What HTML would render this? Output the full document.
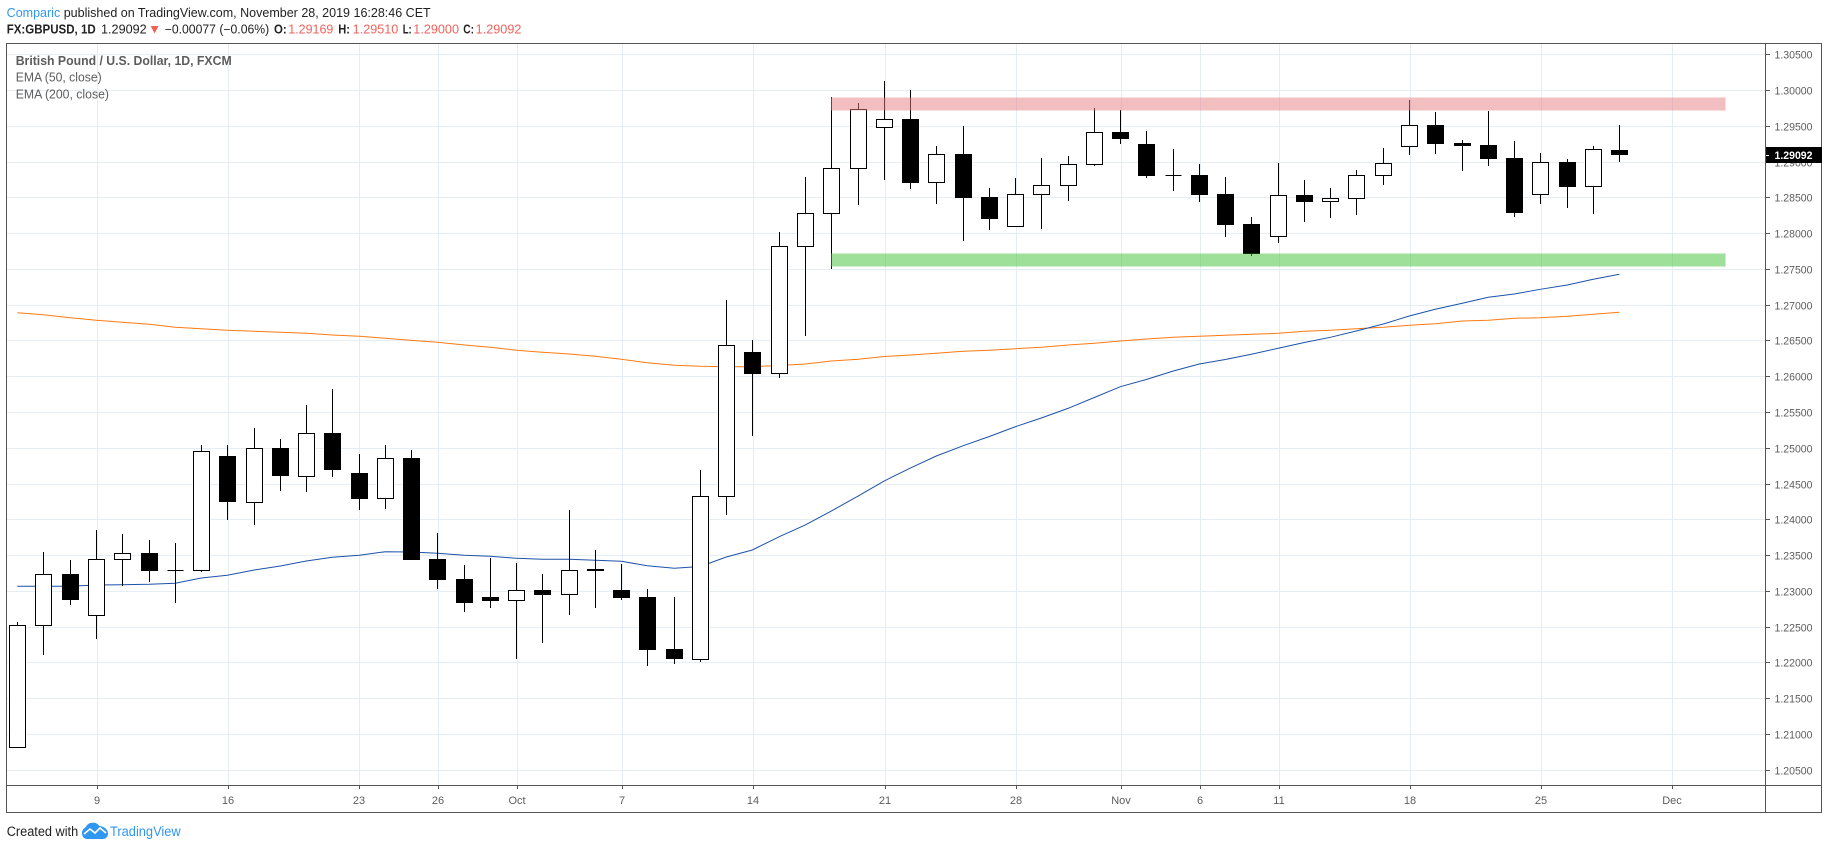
<!DOCTYPE html>
<html lang="en">
<head>
<meta charset="utf-8">
<title>GBPUSD chart</title>
<style>
html,body{margin:0;padding:0;background:#fff;width:1828px;height:849px;overflow:hidden}
svg{display:block;font-family:"Liberation Sans",sans-serif}
</style>
</head>
<body>
<svg id="chart" xmlns="http://www.w3.org/2000/svg" width="1828" height="849" viewBox="0 0 1828 849">
  <g id="grid"></g>
  <g id="emas"></g>
  <g id="candles"></g>
  <g id="zones"></g>

  <g stroke="#555" stroke-width="1" fill="none" shape-rendering="crispEdges">
    <rect x="6.5" y="43.5" width="1815" height="769"/>
    <line x1="1765.5" y1="43.5" x2="1765.5" y2="812.5"/>
    <line x1="6.5" y1="785.5" x2="1821.5" y2="785.5"/>
  </g>
  <g id="yaxis"></g>
  <g id="xaxis"></g>

  <g font-size="12.5" fill="#222">
    <text x="6.7" y="17" textLength="424" lengthAdjust="spacingAndGlyphs"><tspan fill="#2f97f0">Comparic</tspan> published on TradingView.com, November 28, 2019 16:28:46 CET</text>
    <text x="6.7" y="33.3" textLength="89" lengthAdjust="spacingAndGlyphs" font-weight="bold">FX:GBPUSD, 1D</text>
    <text x="101" y="33.3" textLength="45.7" lengthAdjust="spacingAndGlyphs">1.29092</text>
    <polygon points="150.7,26 158.5,26 154.6,33.5" fill="#ef5f58"/>
    <text x="164.7" y="33.3" textLength="104.5" lengthAdjust="spacingAndGlyphs">−0.00077 (−0.06%)</text>
    <text x="274" y="33.3" textLength="12.7" lengthAdjust="spacingAndGlyphs" font-weight="bold">O:</text>
    <text x="288.3" y="33.3" textLength="45" lengthAdjust="spacingAndGlyphs" fill="#f0625d">1.29169</text>
    <text x="338.3" y="33.3" textLength="11.7" lengthAdjust="spacingAndGlyphs" font-weight="bold">H:</text>
    <text x="352.7" y="33.3" textLength="45.6" lengthAdjust="spacingAndGlyphs" fill="#f0625d">1.29510</text>
    <text x="402.7" y="33.3" textLength="9" lengthAdjust="spacingAndGlyphs" font-weight="bold">L:</text>
    <text x="413.3" y="33.3" textLength="45.7" lengthAdjust="spacingAndGlyphs" fill="#f0625d">1.29000</text>
    <text x="463.3" y="33.3" textLength="10.7" lengthAdjust="spacingAndGlyphs" font-weight="bold">C:</text>
    <text x="475.7" y="33.3" textLength="45.7" lengthAdjust="spacingAndGlyphs" fill="#f0625d">1.29092</text>
  </g>

  <g font-size="12.5" fill="#5d5d5d">
    <text x="15.7" y="65" textLength="216" lengthAdjust="spacingAndGlyphs" font-weight="bold">British Pound / U.S. Dollar, 1D, FXCM</text>
    <text x="15.7" y="81.7" textLength="86" lengthAdjust="spacingAndGlyphs">EMA (50, close)</text>
    <text x="15.7" y="98.3" textLength="93.3" lengthAdjust="spacingAndGlyphs">EMA (200, close)</text>
  </g>

  <g font-size="13.5">
    <text x="6.7" y="836" textLength="71.5" lengthAdjust="spacingAndGlyphs" fill="#222">Created with</text>
    <g>
      <path d="M82 833c0-3 2-5 4-6 1-3 4-4.500 7-4.200 2.500-.3 5 1 6.300 3.200 4 .2 8.700 3 8.700 7.500 0 3-2 5.500-5 5.500H87c-3 0-5-2.500-5-6z" fill="#2f97f0"/>
      <path d="M84 834l6-5 5 4 5-5 6 5" fill="none" stroke="#fff" stroke-width="1.600"/>
    </g>
    <text x="110" y="836" textLength="70.700" lengthAdjust="spacingAndGlyphs" fill="#2f97f0">TradingView</text>
  </g>
</svg>
<script>
const timeLabels = ["9","16","23","26","Oct","7","14","21","28","Nov","6","11","18","25","Dec"];
const timeLabelBars = [3,8,13,16,19,23,28,33,38,42,45,48,53,58,63];
const priceLabels = ["1.30500","1.30000","1.29500","1.29000","1.28500","1.28000","1.27500","1.27000","1.26500","1.26000","1.25500","1.25000","1.24500","1.24000","1.23500","1.23000","1.22500","1.22000","1.21500","1.21000","1.20500"];
const lastPrice = 1.29092;
const opens = [
1.20821,1.22519,1.23236,1.22667,1.23441,1.23529,1.23288,1.23288,1.24885,1.24246,
1.24997,1.24609,1.25207,1.24647,1.24294,1.24853,1.23445,1.23166,1.22914,1.22868,
1.23012,1.22952,1.23306,1.23012,1.22914,1.22187,1.22051,1.24322,1.26339,1.26041,
1.27816,1.28278,1.28907,1.29480,1.29596,1.28711,1.29106,1.28505,1.28096,1.28543,
1.28669,1.28963,1.29414,1.29246,1.28809,1.28813,1.28547,1.28128,1.27956,1.28533,
1.28445,1.28487,1.28809,1.29214,1.29512,1.29260,1.29232,1.29050,1.28543,1.28995,
1.28655,1.29169];
const highs = [
1.22565,1.23543,1.23431,1.23851,1.23795,1.23711,1.23669,1.25039,1.25039,1.25276,
1.25123,1.25598,1.25822,1.24913,1.25039,1.24969,1.23805,1.23361,1.23459,1.23389,
1.23236,1.24130,1.23571,1.23375,1.23026,1.22914,1.24689,1.27066,1.26506,1.28016,
1.28785,1.29903,1.29819,1.30127,1.30001,1.29218,1.29498,1.28631,1.28771,1.29050,
1.29078,1.29749,1.29721,1.29428,1.29176,1.28967,1.28785,1.28226,1.28981,1.28743,
1.28631,1.28883,1.29190,1.29861,1.29693,1.29302,1.29707,1.29288,1.29120,1.29036,
1.29218,1.29510];
const lows = [
1.20821,1.22107,1.22802,1.22331,1.23072,1.23124,1.22834,1.23268,1.23990,1.23921,
1.24396,1.24382,1.24591,1.24130,1.24144,1.23431,1.23026,1.22704,1.22760,1.22047,
1.22271,1.22663,1.22760,1.22872,1.21950,1.21978,1.22006,1.24060,1.25165,1.25979,
1.26562,1.27495,1.28394,1.28743,1.28617,1.28407,1.27890,1.28044,1.28096,1.28058,
1.28449,1.28939,1.29246,1.28771,1.28589,1.28435,1.27946,1.27681,1.27862,1.28156,
1.28212,1.28254,1.28673,1.29092,1.29106,1.28869,1.28939,1.28226,1.28407,1.28352,
1.28268,1.29000];
const closes = [
1.22519,1.23232,1.22872,1.23441,1.23525,1.23278,1.23288,1.24951,1.24242,1.24993,
1.24605,1.25203,1.24689,1.24284,1.24853,1.23431,1.23152,1.22830,1.22858,1.23008,
1.22942,1.23288,1.23278,1.22900,1.22173,1.22047,1.24326,1.26433,1.26031,1.27816,
1.28278,1.28907,1.29731,1.29592,1.28701,1.29102,1.28491,1.28198,1.28543,1.28669,
1.28963,1.29410,1.29316,1.28799,1.28809,1.28533,1.28114,1.27709,1.28529,1.28435,
1.28487,1.28809,1.28977,1.29508,1.29246,1.29218,1.29036,1.28282,1.28991,1.28645,
1.29172,1.29092];
const ema50 = [
1.23064,1.23064,1.23064,1.23082,1.23086,1.23092,1.23106,1.23180,1.23218,1.23292,
1.23347,1.23417,1.23469,1.23497,1.23547,1.23543,1.23525,1.23497,1.23483,1.23455,
1.23441,1.23441,1.23427,1.23413,1.23351,1.23316,1.23340,1.23473,1.23571,1.23757,
1.23921,1.24116,1.24326,1.24536,1.24717,1.24885,1.25029,1.25158,1.25294,1.25416,
1.25552,1.25703,1.25854,1.25954,1.26073,1.26171,1.26234,1.26307,1.26391,1.26472,
1.26544,1.26632,1.26730,1.26842,1.26936,1.27020,1.27104,1.27149,1.27215,1.27275,
1.27355,1.27425];
const ema200 = [
1.26888,1.26860,1.26818,1.26782,1.26754,1.26726,1.26684,1.26664,1.26642,1.26628,
1.26614,1.26600,1.26576,1.26558,1.26530,1.26502,1.26475,1.26437,1.26405,1.26363,
1.26335,1.26311,1.26279,1.26237,1.26189,1.26153,1.26139,1.26133,1.26133,1.26150,
1.26171,1.26213,1.26237,1.26276,1.26297,1.26321,1.26349,1.26363,1.26385,1.26405,
1.26437,1.26461,1.26492,1.26520,1.26544,1.26558,1.26572,1.26586,1.26600,1.26628,
1.26642,1.26664,1.26684,1.26712,1.26734,1.26772,1.26782,1.26810,1.26818,1.26838,
1.26866,1.26894];
const resistanceZone = [1.29899,1.29712];
const supportZone = [1.27718,1.27531];
const zoneBars = [31,65];

const NS = 'http://www.w3.org/2000/svg';
function xBar(i){ return Math.floor(17.7 + 26.26*i) + 0.5; }
function xGrid(i){ return Math.floor(18.6 + 26.26*i) + 0.5; }
function yPrice(p){ return 54.3 + (1.305 - p)*7154; }
function crisp(p){ return Math.round(yPrice(p)); }
function make(tag, parent){
  const el = document.createElementNS(NS, tag);
  parent.appendChild(el);
  return el;
}

const gridG = document.getElementById('grid');
const yaxisG = document.getElementById('yaxis');
const xaxisG = document.getElementById('xaxis');
const emaG = document.getElementById('emas');
const candleG = document.getElementById('candles');
const zoneG = document.getElementById('zones');

priceLabels.forEach(function(label){
  const y = crisp(parseFloat(label)) + 0.5;
  const g = make('line', gridG);
  
  
  g.setAttribute('x1', 7); g.setAttribute('x2', 1765);
  g.setAttribute('y1', y); g.setAttribute('y2', y);
  g.setAttribute('stroke', '#e6edf3');
  g.setAttribute('shape-rendering', 'crispEdges');
  const t = make('line', yaxisG);
  
  
  t.setAttribute('x1', 1766); t.setAttribute('x2', 1770);
  t.setAttribute('y1', y); t.setAttribute('y2', y);
  t.setAttribute('stroke', '#555');
  t.setAttribute('shape-rendering', 'crispEdges');
  const l = make('text', yaxisG);
  
  
  l.setAttribute('x', 1774.5);
  l.setAttribute('y', y + 4);
  l.setAttribute('font-size', '11');
  l.setAttribute('fill', '#5d5d5d');
  l.setAttribute('textLength', '38');
  l.setAttribute('lengthAdjust', 'spacingAndGlyphs');
  l.textContent = label;
});

timeLabels.forEach(function(label, k){
  const x = xGrid(timeLabelBars[k]);
  const g = make('line', gridG);
  
  
  g.setAttribute('x1', x); g.setAttribute('x2', x);
  g.setAttribute('y1', 44); g.setAttribute('y2', 785);
  g.setAttribute('stroke', '#e6edf3');
  g.setAttribute('shape-rendering', 'crispEdges');
  const t = make('line', xaxisG);
  
  
  t.setAttribute('x1', x); t.setAttribute('x2', x);
  t.setAttribute('y1', 786); t.setAttribute('y2', 789);
  t.setAttribute('stroke', '#555');
  t.setAttribute('shape-rendering', 'crispEdges');
  const l = make('text', xaxisG);
  
  
  l.setAttribute('x', x - 0.5);
  l.setAttribute('y', 804);
  l.setAttribute('font-size', '11');
  l.setAttribute('fill', '#5d5d5d');
  l.setAttribute('text-anchor', 'middle');
  l.textContent = label;
});

function emaPath(values){
  return values.map(function(v, i){
    return (i ? 'L' : 'M') + (xBar(i) - 0.2) + ' ' + yPrice(v).toFixed(2);
  }).join('');
}
const line200 = make('path', emaG);


line200.setAttribute('d', emaPath(ema200));
line200.setAttribute('fill', 'none');
line200.setAttribute('stroke', '#ff7a12');
line200.setAttribute('stroke-width', '1');
const line50 = make('path', emaG);


line50.setAttribute('d', emaPath(ema50));
line50.setAttribute('fill', 'none');
line50.setAttribute('stroke', '#1d52a8');
line50.setAttribute('stroke-width', '1');

opens.forEach(function(o, i){
  const c = closes[i];
  const x = xBar(i);
  const wick = make('line', candleG);
  
  
  wick.setAttribute('x1', x); wick.setAttribute('x2', x);
  wick.setAttribute('y1', crisp(highs[i])); wick.setAttribute('y2', crisp(lows[i]));
  wick.setAttribute('stroke', '#000');
  wick.setAttribute('shape-rendering', 'crispEdges');
  const top = crisp(Math.max(o, c));
  const bot = crisp(Math.min(o, c));
  if (c >= o) {
    const body = make('path', candleG);
    
    
    body.setAttribute('d', 'M' + (x - 8) + ' ' + (top + 0.5) + 'h16V' + (bot + 0.5) + 'h-16Z');
    body.setAttribute('fill', '#fff');
    body.setAttribute('stroke', '#000');
    body.setAttribute('shape-rendering', 'crispEdges');
  } else {
    const body = make('rect', candleG);
    
    
    body.setAttribute('x', x - 8.5);
    body.setAttribute('y', top);
    body.setAttribute('width', 17);
    body.setAttribute('height', Math.max(bot - top, 1));
    body.setAttribute('fill', '#000');
    body.setAttribute('shape-rendering', 'crispEdges');
  }
});

function drawZone(zone, rgb, nm){
  const x0 = Math.floor(17.7 + 26.26*zoneBars[0]);
  const x1 = Math.round(18.7 + 26.26*zoneBars[1]);
  const y0 = crisp(zone[0]);
  const y1 = crisp(zone[1]);
  const outer = make('rect', zoneG);
  
  
  outer.setAttribute('x', x0);
  outer.setAttribute('y', y0);
  outer.setAttribute('width', x1 - x0);
  outer.setAttribute('height', y1 - y0);
  outer.setAttribute('fill', 'rgba(' + rgb + ',0.25)');
  outer.setAttribute('shape-rendering', 'crispEdges');
  const inner = make('rect', zoneG);
  
  
  inner.setAttribute('x', x0);
  inner.setAttribute('y', y0 + 1);
  inner.setAttribute('width', x1 - x0 - 1);
  inner.setAttribute('height', y1 - y0 - 2);
  inner.setAttribute('fill', 'rgba(' + rgb + ',0.34)');
  inner.setAttribute('shape-rendering', 'crispEdges');
}
drawZone(resistanceZone, '231,127,133', 'resistance');
drawZone(supportZone, '65,193,57', 'support');

const tagY = yPrice(lastPrice);
const tag = make('rect', yaxisG);


tag.setAttribute('x', 1766);
tag.setAttribute('y', Math.round(tagY) - 8);
tag.setAttribute('width', 56);
tag.setAttribute('height', 16);
tag.setAttribute('fill', '#000');
tag.setAttribute('shape-rendering', 'crispEdges');
const tagTick = make('line', yaxisG);


tagTick.setAttribute('x1', 1766);
tagTick.setAttribute('x2', 1769);
tagTick.setAttribute('y1', Math.round(tagY) + 0.5);
tagTick.setAttribute('y2', Math.round(tagY) + 0.5);
tagTick.setAttribute('stroke', '#fff');
tagTick.setAttribute('shape-rendering', 'crispEdges');
const tagText = make('text', yaxisG);


tagText.setAttribute('x', 1774.5);
tagText.setAttribute('y', Math.round(tagY) + 4);
tagText.setAttribute('font-size', '11');
tagText.setAttribute('font-weight', 'bold');
tagText.setAttribute('fill', '#fff');
tagText.setAttribute('textLength', '38');
tagText.setAttribute('lengthAdjust', 'spacingAndGlyphs');
tagText.textContent = lastPrice.toFixed(5);
</script>
</body>
</html>
